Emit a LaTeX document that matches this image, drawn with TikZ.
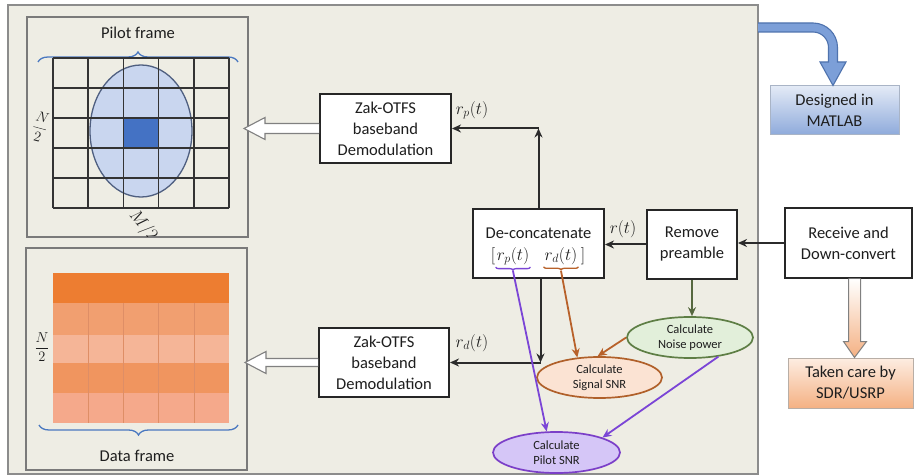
\documentclass[tikz,border=0pt]{standalone}
\usepackage{fontspec}
\setmainfont{Carlito}
\usetikzlibrary{arrows.meta,shapes.geometric,decorations.pathreplacing,calc}

\definecolor{inkc}{HTML}{1E1E1E}
\definecolor{panelbg}{HTML}{EEEDE4}
\definecolor{panelline}{HTML}{8C8C8C}
\definecolor{framegray}{HTML}{7A7A7A}
\definecolor{gridc}{HTML}{333333}
\definecolor{bracec}{HTML}{4A78C0}
\definecolor{ellfill}{HTML}{C9D6EF}
\definecolor{ellline}{HTML}{4F5F80}
\definecolor{pilotcell}{HTML}{4472C4}
\definecolor{dA}{HTML}{ED7D31}
\definecolor{dB}{HTML}{F19F70}
\definecolor{dC}{HTML}{F5B597}
\definecolor{dD}{HTML}{F0955F}
\definecolor{dE}{HTML}{F5A98B}
\definecolor{dcol}{HTML}{DE8E66}
\definecolor{flowc}{HTML}{2B2B2B}
\definecolor{hollowc}{HTML}{808080}
\definecolor{noisefill}{HTML}{E2EFDA}
\definecolor{noiseline}{HTML}{5E7E45}
\definecolor{sigfill}{HTML}{FBE3D3}
\definecolor{sigline}{HTML}{B0602A}
\definecolor{pilfill}{HTML}{D5C6F7}
\definecolor{pilline}{HTML}{7B3FC8}
\definecolor{greenflow}{HTML}{56683F}
\definecolor{orangeflow}{HTML}{B8612A}
\definecolor{purpleflow}{HTML}{7B45D6}
\definecolor{mattop}{HTML}{E3EAF6}
\definecolor{matbot}{HTML}{8EAADB}
\definecolor{matline}{HTML}{A9B4C6}
\definecolor{sdrtop}{HTML}{FDEDE2}
\definecolor{sdrbot}{HTML}{F4B183}
\definecolor{sdrline}{HTML}{B8AEA6}
\definecolor{bluefill}{HTML}{7C9FD8}
\definecolor{blueline}{HTML}{4F73AE}

\begin{document}
\begin{tikzpicture}[x=1pt,y=-1pt,
  every node/.style={text=inkc},
  panelframe/.style={draw=panelline,line width=1.3pt,fill=panelbg},
  framebox/.style={draw=framegray,line width=1.1pt,fill=panelbg},
  gridln/.style={draw=gridc,line width=1.5pt},
  bracestyle/.style={draw=bracec,line width=1.3pt,decorate},
  procbox/.style={draw=black!85,line width=2pt,fill=white,align=center,
    inner sep=0pt,minimum height=69pt,font=\fontsize{16.5}{21}\selectfont},
  calcell/.style={ellipse,line width=1.7pt,align=center,inner sep=0pt,
    minimum height=41pt,font=\fontsize{12.5}{15}\selectfont},
  flow/.style={draw=flowc,line width=2pt,-{Stealth[length=9pt,width=8pt]}},
  colflow/.style={line width=1.8pt,-{Stealth[length=9pt,width=8pt]}},
  mlbl/.style={font=\fontsize{17}{20}\selectfont,inner sep=1pt},
  lbl/.style={font=\fontsize{16.5}{20}\selectfont},
  hollow/.style={draw=hollowc,line width=1.1pt,fill=white},
  gradbox/.style={line width=1pt,align=center,inner sep=0pt,
    font=\fontsize{16.5}{21}\selectfont}
]
\useasboundingbox (0,0) rectangle (914,476);
\fill[white] (0,0) rectangle (914,476);

% receiver panel
\draw[panelframe] (8,5) rectangle (758,474);

% ---------- pilot frame ----------
\draw[framebox] (27,17) rectangle (248,237);
\node[lbl] (pilottitle) at (138,33) {Pilot frame};
\draw[bracestyle,decoration={brace,amplitude=10pt}] (38,62) -- (238,62);
\filldraw[fill=ellfill,draw=ellline,line width=1.3pt] (141,131) ellipse [x radius=51pt,y radius=66pt];
\fill[pilotcell] (123.4,118) rectangle (158.6,148);
\foreach \x in {53,88.2,123.4,158.6,193.8,229} \draw[gridln] (\x,58) -- (\x,208);
\foreach \y in {58,88,118,148,178,208} \draw[gridln] (53,\y) -- (229,\y);
\node[font=\fontsize{15}{18}\selectfont,rotate=-15] (pilotN) at (40,127) {$\displaystyle\frac{N}{2}$};
\begin{scope}
  \clip (27.5,17.5) rectangle (247.5,236.5);
  \node[font=\fontsize{17}{20}\selectfont,rotate=-50] (pilotM) at (143,226) {$M/2$};
\end{scope}

% ---------- data frame ----------
\draw[framebox] (26,248) rectangle (247,470);
\fill[dA] (53,273) rectangle (229,303);
\fill[dB] (53,303) rectangle (229,335);
\fill[dC] (53,335) rectangle (229,363);
\fill[dD] (53,363) rectangle (229,393);
\fill[dE] (53,393) rectangle (229,423);
\foreach \x in {88.2,123.4,158.6,193.8} \draw[dcol,line width=0.6pt] (\x,303) -- (\x,423);
\node[font=\fontsize{15}{18}\selectfont] (dataN) at (42,347) {$\displaystyle\frac{N}{2}$};
\draw[bracestyle,decoration={brace,amplitude=10pt}] (238,425) -- (39,425);
\node[lbl] (datatitle) at (137,456) {Data frame};

% ---------- processing blocks ----------
\node[procbox,minimum width=131pt] (z1) at (385.5,128.5) {Zak-OTFS\\baseband\\Demodulation};
\node[procbox,minimum width=130pt] (z2) at (384,362.5) {Zak-OTFS\\baseband\\Demodulation};
\node[procbox,minimum width=131pt] (dc) at (538.5,243.5) {};
\node[procbox,minimum width=90pt] (rm) at (692,244.5) {Remove\\preamble};
\node[procbox,minimum width=127pt] (rx) at (848.5,243) {Receive and\\Down-convert};

\node[lbl] (dctitle) at (538.5,233) {De-concatenate};
\node[mlbl] (lb) at (493,256) {$[$};
\node[mlbl] (rpin) at (513,256) {$r_p(t)$};
\node[mlbl] (rdin) at (561,256) {$r_d(t)$};
\node[mlbl] (rb) at (583,256) {$]$};
\draw[draw=purpleflow,line width=1.3pt,decorate,decoration={brace,amplitude=3pt}]
  ($(rpin.south east)+(0,1)$) -- ($(rpin.south west)+(0,1)$);
\draw[draw=orangeflow,line width=1.3pt,decorate,decoration={brace,amplitude=3pt}]
  ($(rdin.south east)+(0,1)$) -- ($(rdin.south west)+(0,1)$);
\coordinate (rptip) at ($(rpin.south)+(0,5)$);
\coordinate (rdtip) at ($(rdin.south)+(0,5)$);

% ---------- estimation ellipses ----------
\node[calcell,draw=noiseline,fill=noisefill,minimum width=126pt] (noise) at (690,337.5) {Calculate\\Noise power};
\node[calcell,draw=sigline,fill=sigfill,minimum width=125pt] (sig) at (599.5,377.5) {Calculate\\Signal SNR};
\node[calcell,draw=pilline,fill=pilfill,minimum width=127pt] (pil) at (556.5,452.5) {Calculate\\Pilot SNR};

% ---------- hollow arrows to the frames ----------
\filldraw[hollow] ($(z1.west)+(0,-5)$) -- ++(-54,0) -- ++(0,-6) -- ++(-21,11)
  -- ++(21,11) -- ++(0,-6) -- ($(z1.west)+(0,5)$);
\filldraw[hollow] ($(z2.west)+(0,-4)$) -- ++(-52,0) -- ++(0,-7) -- ++(-21,11)
  -- ++(21,11) -- ++(0,-7) -- ($(z2.west)+(0,4)$);

% ---------- signal flow ----------
\coordinate (upc) at (dc.north |- z1.east);
\coordinate (dnc) at ($(dc.south |- z2.east)+(2,0)$);
\draw[flow] (rx.west) -- (rx.west -| rm.east);
\draw[flow] (rm.west) -- (rm.west -| dc.east);
\draw[flow] (dc.north) -- (upc);
\draw[flow] (upc) -- (z1.east);
\draw[flow] ($(dc.south)+(2,0)$) -- (dnc);
\draw[flow] (dnc) -- (z2.east);
\node[mlbl] (rplbl) at (472,110) {$r_p(t)$};
\node[mlbl] (rdlbl) at (472,343) {$r_d(t)$};
\node[mlbl] (rlbl) at (623,229) {$r(t)$};

\draw[colflow,draw=greenflow] (rm.south) -- (rm.south |- noise.north);
\draw[colflow,draw=orangeflow] (rdtip) -- (sig.138);
\draw[colflow,draw=orangeflow] (noise.west) -- (sig.95);
\draw[colflow,draw=purpleflow] (rptip) -- (pil.115);
\draw[colflow,draw=purpleflow] (noise.-34) -- (pil.18);

% ---------- implementation notes ----------
\node[gradbox,draw=matline,top color=mattop,bottom color=matbot,
  minimum width=129pt,minimum height=49pt] (mat) at (834.5,110.5) {Designed in\\MATLAB};
\node[gradbox,draw=sdrline,top color=sdrtop,bottom color=sdrbot,
  minimum width=125pt,minimum height=50pt] (sdr) at (850.5,383) {Taken care by\\SDR/USRP};

\filldraw[fill=bluefill,draw=blueline,line width=1.1pt]
  (758,23) -- (813,23) arc[start angle=90,end angle=0,radius=24.5pt]
  -- (837.5,62) -- (846,62) -- (mat.north -| 833,0) -- (820,62) -- (828.5,62)
  -- (828.5,47.5) arc[start angle=0,end angle=90,radius=15.5pt] -- (758,32);

\draw[draw=hollowc,line width=1pt,top color=white,bottom color=sdrbot]
  ($(rx.south)+(0,0)$) -- ++(0,63) -- ++(-5,0) -- ($(sdr.north)+(4,0)$)
  -- ($(rx.south)+(18,63)$) -- ++(-6,0) -- ($(rx.south)+(12,0)$);
\end{tikzpicture}
\end{document}
